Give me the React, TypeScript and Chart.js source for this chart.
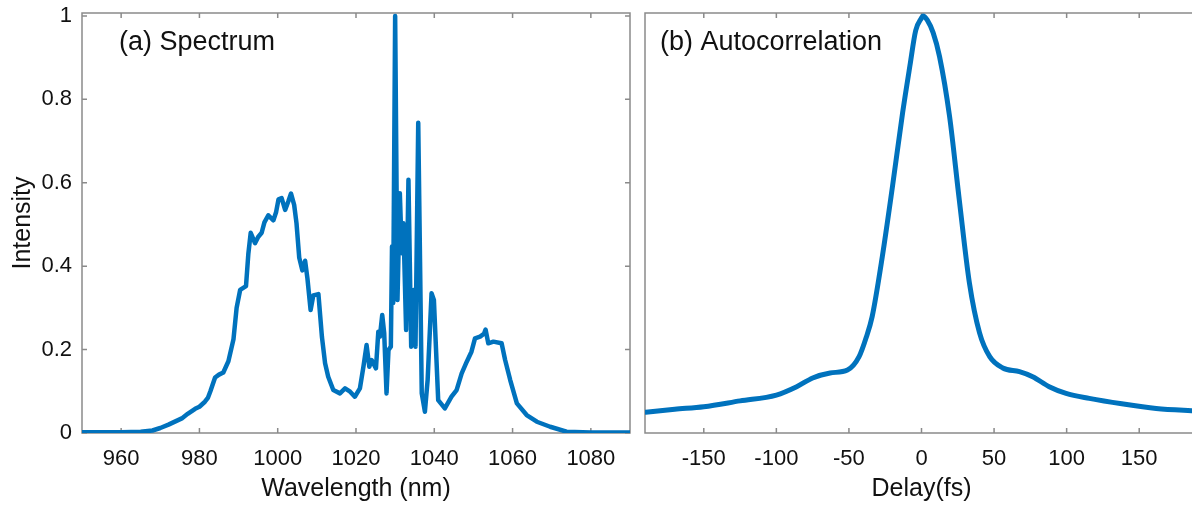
import React, { useEffect, useRef } from "react";
import { Chart, registerables } from "chart.js";

Chart.register(...registerables);

// ---------- data ----------
const specWavelength = [
  950, 955, 960, 965, 968, 970, 972.1, 975.5, 977, 978.9, 980, 981.4, 982.2, 982.8, 984, 985, 986.1, 987.4,
  988.7, 989.5, 990.4, 991.9, 992.5, 993.1, 994.2, 995, 995.9, 996.6, 997.6, 998.9, 999.6, 1000.2, 1001,
  1001.9, 1002.7, 1003.4, 1004.2, 1004.8, 1005.5, 1006.3, 1007, 1007.6, 1008.4, 1009.1, 1010.4, 1011.3,
  1012.1, 1012.9, 1014.2, 1015.9, 1017.2, 1018.5, 1019.7, 1021, 1021.9, 1022.7, 1023.4, 1024, 1025.1,
  1025.7, 1026.1, 1026.7, 1027.2, 1027.8, 1028.3, 1028.9, 1029.2, 1029.5, 1030, 1030.6, 1031.2, 1031.7,
  1032.1, 1032.8, 1033.4, 1034.1, 1034.7, 1035.2, 1035.9, 1036.8, 1037.6, 1038.3, 1039.3, 1039.9, 1041,
  1042.7, 1044.4, 1045.7, 1047, 1048.3, 1049.5, 1050.4, 1051.7, 1052.7, 1053.1, 1053.8, 1055.1, 1057.2,
  1058.1, 1059.4, 1061.1, 1063.6, 1066.2, 1069.6, 1073.8, 1080, 1090,
];
const specIntensity = [
  0.002, 0.002, 0.002, 0.003, 0.006, 0.012, 0.02, 0.035, 0.046, 0.058, 0.063, 0.075, 0.085, 0.1, 0.133, 0.14,
  0.145, 0.172, 0.225, 0.3, 0.343, 0.352, 0.43, 0.48, 0.455, 0.47, 0.48, 0.505, 0.522, 0.51, 0.53, 0.56,
  0.563, 0.535, 0.555, 0.574, 0.547, 0.503, 0.42, 0.39, 0.413, 0.37, 0.295, 0.33, 0.333, 0.23, 0.167, 0.135,
  0.103, 0.095, 0.107, 0.099, 0.087, 0.107, 0.159, 0.211, 0.159, 0.175, 0.155, 0.243, 0.231, 0.283, 0.24,
  0.095, 0.199, 0.207, 0.447, 0.312, 1.0, 0.319, 0.575, 0.431, 0.503, 0.247, 0.607, 0.207, 0.343, 0.207,
  0.744, 0.095, 0.051, 0.127, 0.335, 0.319, 0.079, 0.059, 0.087, 0.103, 0.143, 0.171, 0.195, 0.227, 0.231,
  0.238, 0.248, 0.215, 0.219, 0.215, 0.175, 0.127, 0.071, 0.043, 0.027, 0.015, 0.003, 0.001, 0.001,
];

const acDelay = [
  -190, -170, -150, -125, -100, -86, -75, -63, -51, -43, -38, -34, -27, -20, -13, -8, -4, 0, 1, 4, 8, 12.4,
  19.3, 26, 33, 40, 47, 56, 67.5, 76.6, 88, 99.6, 115.6, 138, 161.7, 190,
];
const acIntensity = [
  0.05, 0.057, 0.063, 0.077, 0.091, 0.111, 0.132, 0.144, 0.151, 0.183, 0.23, 0.279, 0.423, 0.591, 0.768,
  0.88, 0.965, 0.995, 1.0, 0.99, 0.96, 0.903, 0.76, 0.56, 0.36, 0.24, 0.183, 0.156, 0.147, 0.135, 0.111,
  0.095, 0.083, 0.07, 0.059, 0.053,
];

const specXTicks = [960, 980, 1000, 1020, 1040, 1060, 1080];
const acXTicks = [-150, -100, -50, 0, 50, 100, 150];
const yTicks = [0, 0.2, 0.4, 0.6, 0.8, 1];
const yTickLabels = ["0", "0.2", "0.4", "0.6", "0.8", "1"];

// ---------- style ----------
const BLUE = "#0072BD";
const AXIS = "#8a8a8a";
const TEXT = "#111111";
const FONT = "'Liberation Sans', Arial, Helvetica, sans-serif";

const boxPlugin = {
  id: "box",
  beforeDatasetsDraw(chart: any, _args: any, opts: any) {
    const { ctx, chartArea: a, scales } = chart;
    ctx.save();
    ctx.strokeStyle = AXIS;
    ctx.lineWidth = 1.5;
    ctx.strokeRect(a.left, a.top, a.right - a.left, a.bottom - a.top);
    const L = 5;
    ctx.beginPath();
    for (const t of scales.x.ticks) {
      const px = scales.x.getPixelForValue(t.value);
      ctx.moveTo(px, a.bottom);
      ctx.lineTo(px, a.bottom - L);
      ctx.moveTo(px, a.top);
      ctx.lineTo(px, a.top + L);
    }
    if (opts.yTicks) {
      for (const t of scales.y.ticks) {
        const py = scales.y.getPixelForValue(t.value);
        ctx.moveTo(a.left, py);
        ctx.lineTo(a.left + L, py);
        ctx.moveTo(a.right, py);
        ctx.lineTo(a.right - L, py);
      }
    }
    ctx.stroke();
    ctx.restore();
  },
  afterDraw(chart: any, _args: any, opts: any) {
    const { ctx, chartArea: a } = chart;
    ctx.save();
    ctx.fillStyle = TEXT;
    ctx.font = `27px ${FONT}`;
    ctx.textBaseline = "alphabetic";
    ctx.textAlign = "left";
    ctx.fillText(opts.label, a.left + opts.dx, a.top + opts.dy);
    ctx.restore();
  },
};

function makeConfig(kind: "spec" | "ac"): any {
  const isSpec = kind === "spec";
  const xs = isSpec ? specWavelength : acDelay;
  const ys = isSpec ? specIntensity : acIntensity;
  const data = xs.map((x, i) => ({ x, y: ys[i] }));
  const xTicks = isSpec ? specXTicks : acXTicks;
  return {
    type: "line",
    data: {
      datasets: [
        {
          data,
          borderColor: BLUE,
          borderWidth: isSpec ? 4.5 : 5,
          pointRadius: 0,
          fill: false,
          tension: isSpec ? 0 : 0.4,
          cubicInterpolationMode: isSpec ? "default" : "monotone",
          borderJoinStyle: "round",
          borderCapStyle: "round",
        },
      ],
    },
    options: {
      animation: false,
      responsive: false,
      maintainAspectRatio: false,
      layout: {
        padding: isSpec
          ? { top: 13, right: 10, left: 0, bottom: 0 }
          : { top: 13, right: 2, left: 5, bottom: 0 },
      },
      plugins: {
        legend: { display: false },
        tooltip: { enabled: false },
        box: isSpec
          ? { label: "(a) Spectrum", dx: 37, dy: 37, yTicks: true }
          : { label: "(b) Autocorrelation", dx: 15, dy: 37, yTicks: false },
      },
      scales: {
        x: {
          type: "linear",
          min: isSpec ? 950 : -190.5,
          max: isSpec ? 1090 : 190.5,
          afterBuildTicks: (s: any) => {
            s.ticks = xTicks.map((v) => ({ value: v }));
          },
          afterFit: (s: any) => {
            s.height = 75;
            s.paddingLeft = 0;
            s.paddingRight = 0;
          },
          grid: { display: false, drawTicks: false },
          border: { display: false },
          ticks: {
            font: { size: 22, family: FONT },
            color: TEXT,
            padding: 13,
            maxRotation: 0,
            autoSkip: false,
            callback: (v: any) => String(v),
          },
          title: {
            display: true,
            text: isSpec ? "Wavelength (nm)" : "Delay(fs)",
            font: { size: 25, family: FONT },
            color: TEXT,
            padding: { top: 0, bottom: 4 },
          },
        },
        y: {
          type: "linear",
          display: isSpec,
          min: 0,
          max: 1.007,
          afterBuildTicks: (s: any) => {
            s.ticks = yTicks.map((v) => ({ value: v }));
          },
          afterFit: (s: any) => {
            if (isSpec) s.width = 82;
            s.paddingTop = 0;
            s.paddingBottom = 0;
          },
          grid: { display: false, drawTicks: false },
          border: { display: false },
          ticks: {
            font: { size: 22, family: FONT },
            color: TEXT,
            padding: 10,
            autoSkip: false,
            callback: (v: any) => {
              const i = yTicks.findIndex((t) => Math.abs(t - v) < 1e-9);
              return i >= 0 ? yTickLabels[i] : "";
            },
          },
          title: {
            display: isSpec,
            text: "Intensity",
            font: { size: 25, family: FONT },
            color: TEXT,
            padding: { top: 8, bottom: 0 },
          },
        },
      },
    },
    plugins: [boxPlugin],
  };
}

function Panel({ kind, left, width }: { kind: "spec" | "ac"; left: number; width: number }) {
  const ref = useRef<HTMLCanvasElement | null>(null);
  useEffect(() => {
    if (!ref.current) return;
    const chart = new Chart(ref.current, makeConfig(kind));
    return () => chart.destroy();
  }, [kind]);
  return (
    <canvas
      ref={ref}
      width={width}
      height={508}
      style={{ position: "absolute", left, top: 0, width, height: 508 }}
    />
  );
}

export default function App() {
  return (
    <div
      style={{
        position: "absolute",
        left: 0,
        top: 0,
        width: 1192,
        height: 508,
        overflow: "hidden",
        background: "#ffffff",
      }}
    >
      <Panel kind="spec" left={0} width={640} />
      <Panel kind="ac" left={640} width={560} />
    </div>
  );
}
